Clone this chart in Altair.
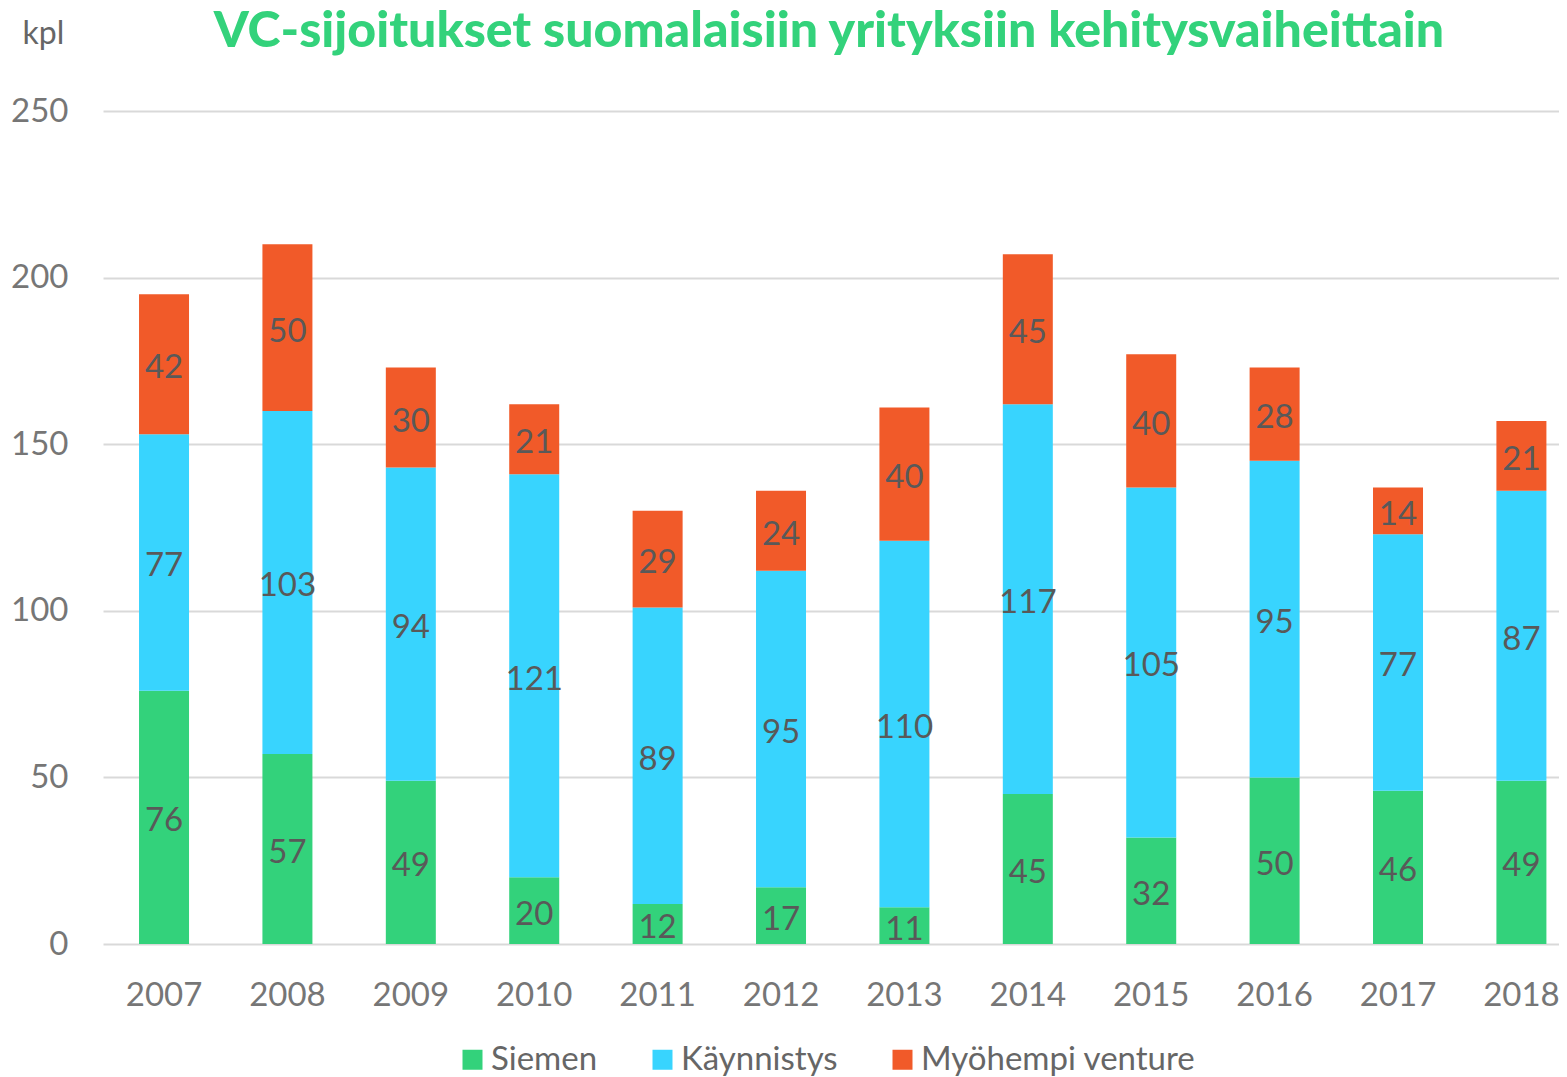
import altair as alt
import pandas as pd

years = ["2007", "2008", "2009", "2010", "2011", "2012", "2013", "2014", "2015", "2016", "2017", "2018"]
series = ["Siemen", "Käynnistys", "Myöhempi venture"]
siemen = [76, 57, 49, 20, 12, 17, 11, 45, 32, 50, 46, 49]
kaynnistys = [77, 103, 94, 121, 89, 95, 110, 117, 105, 95, 77, 87]
myohempi = [42, 50, 30, 21, 29, 24, 40, 45, 40, 28, 14, 21]
colors = ["#33D27B", "#38D4FE", "#F15A29"]
title_text = "VC-sijoitukset suomalaisiin yrityksiin kehitysvaiheittain"

rows = []
for i, y in enumerate(years):
    for k, (s, vals) in enumerate(zip(series, [siemen, kaynnistys, myohempi])):
        rows.append({"year": y, "series": s, "value": vals[i], "order": k})
df = pd.DataFrame(rows)

FONT = "Lato"
W, H = 1456, 833

base = alt.Chart(df).transform_stack(
    stack="value", groupby=["year"], as_=["y0", "y1"], sort=[alt.SortField("order")]
).transform_calculate(mid="(datum.y0 + datum.y1) / 2")

xscale = alt.Scale(paddingInner=0.5948, paddingOuter=0.197, align=0.741)

xenc = alt.X(
    "year:N",
    sort=years,
    title=None,
    scale=xscale,
    axis=alt.Axis(labelAngle=0, ticks=False, domain=False, labelPadding=35,
                  labelFontSize=33, labelColor="#767676", labelFont=FONT),
)

bars = base.mark_bar().encode(
    x=xenc,
    y=alt.Y(
        "y0:Q",
        scale=alt.Scale(domain=[0, 250], nice=False),
        axis=alt.Axis(
            values=[0, 50, 100, 150, 200, 250], ticks=False, domain=False,
            gridColor="#D9D9D9", gridWidth=2, labelPadding=35,
            labelFontSize=33, labelColor="#767676", labelFont=FONT,
            title="kpl", titleAngle=0, titleAlign="left", titleBaseline="middle",
            titleX=-81, titleY=-78, titleFontSize=32, titleFontWeight="normal",
            titleColor="#666666", titleFont=FONT,
        ),
    ),
    y2="y1:Q",
    color=alt.Color(
        "series:N",
        scale=alt.Scale(domain=series, range=colors),
        legend=alt.Legend(
            title=None, orient="none", direction="horizontal",
            legendX=353, legendY=932, symbolType="square", symbolSize=400,
            symbolStrokeWidth=0, labelFontSize=33, labelColor="#666666",
            labelFont=FONT, labelOffset=2, columnPadding=48, labelLimit=500,
        ),
    ),
)

labels = base.mark_text(fontSize=33, color="#595959", font=FONT, baseline="middle", dy=4).encode(
    x=alt.X("year:N", sort=years),
    y=alt.Y("mid:Q"),
    text="value:Q",
)

title = alt.Chart(pd.DataFrame({"t": [title_text]})).mark_text(
    font=FONT, fontSize=50, fontWeight=900, color="#33D27B",
    align="center", baseline="alphabetic",
).encode(x=alt.value(726), y=alt.value(-64), text="t:N")

chart = alt.layer(bars, labels, title).properties(
    width=W,
    height=H,
    padding={"left": 95, "top": 103, "right": 0, "bottom": 132},
    autosize=alt.AutoSizeParams(type="none"),
).configure_view(stroke=None)

chart.save("out.html", embed_options={"renderer": "svg", "actions": False})
